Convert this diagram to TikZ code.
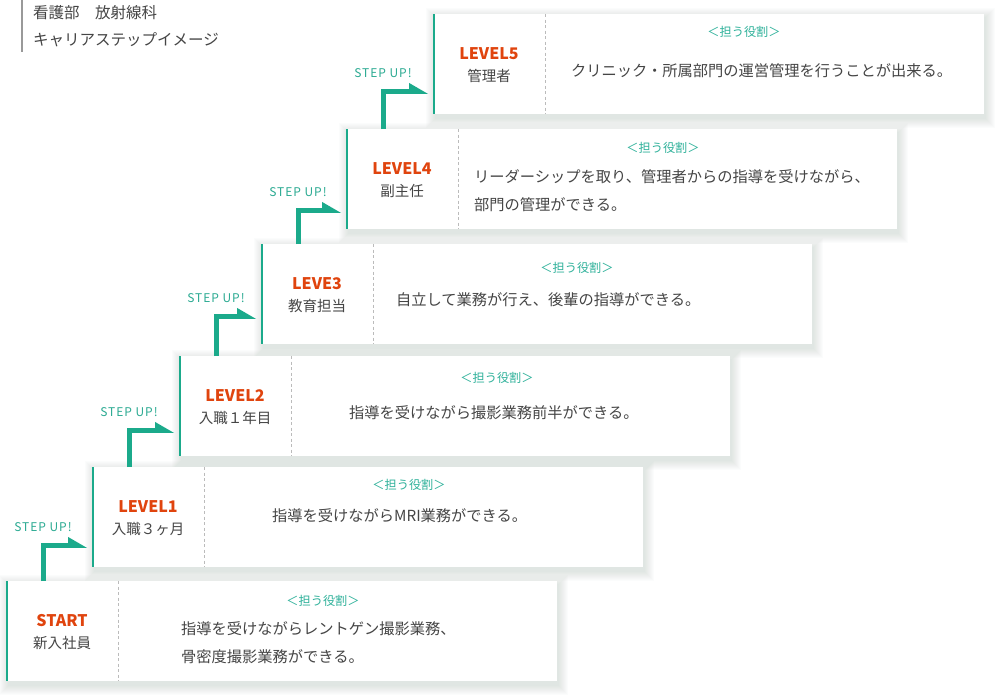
\documentclass[tikz,border=0pt]{standalone}
\usepackage{fontspec}
\setmainfont{Noto Sans CJK JP}
\newfontfamily\stepfont[LetterSpace=8]{Noto Sans CJK JP}
\usetikzlibrary{calc}
\definecolor{tealA}{HTML}{1BAA8B}
\definecolor{tealT}{HTML}{2BAA92}
\definecolor{roleC}{HTML}{2EB19A}
\definecolor{redC}{HTML}{E0440E}
\definecolor{txtC}{HTML}{454545}
\definecolor{shadowC}{HTML}{8FA8A0}
\definecolor{dashC}{HTML}{BBBBBB}
\tikzset{
  boxshape/.style={rectangle, inner sep=0pt, minimum width=550pt, minimum height=99.5pt, anchor=north west},
  leftbar/.style={draw=tealA, line width=1.5pt},
  divider/.style={draw=dashC, line width=0.8pt, dash pattern=on 3pt off 2.5pt},
  titletext/.style={text=redC, font=\bfseries\fontsize{16}{18}\selectfont, inner sep=0pt},
  subtext/.style={text=txtC, font=\fontsize{14.5}{17}\selectfont, inner sep=0pt},
  roletext/.style={text=roleC, font=\fontsize{12.2}{14}\selectfont, inner sep=0pt},
  bodytext/.style={text=txtC, font=\fontsize{15.25}{28}\selectfont, inner sep=0pt, align=left, anchor=west},
  steplabel/.style={text=tealT, font=\stepfont\fontsize{12}{14}\selectfont, inner sep=0pt},
  arrowbar/.style={draw=tealA, line width=5pt},
  headtext/.style={text=txtC, font=\fontsize{15.5}{18}\selectfont, inner sep=0pt, anchor=west}
}
\newcommand{\stageBox}[5]{%
  \node[boxshape] (#1) at (#2,#3) {};
  \foreach \i in {1,...,10}{
    \fill[shadowC, opacity=0.028] ($(#1.north west)+(2-\i,4-\i)$) rectangle ($(#1.south east)+(1+\i,4+\i)$);
  }
  \fill[white] (#1.north west) rectangle (#1.south east);
  \draw[leftbar] (#1.north west) -- (#1.south west);
  \draw[divider] ($(#1.north west)+(111,0)$) -- ($(#1.south west)+(111,0)$);
  \node[titletext] (#1t) at ($(#1.north west)+(55,40)$) {#4};
  \node[subtext] (#1s) at ($(#1.north west)+(55,62)$) {#5};
}
\newcommand{\stepArrow}[4]{%
  \coordinate (#1a) at ($(#2.north west)+(36,0)$);
  \coordinate (#1b) at ($(#3.south west)+(-25,-#4)$);
  \draw[arrowbar] (#1a) |- (#1b);
  \fill[tealA] ($(#1b)+(0,2.5)$) -- ($(#1b)+(0,-8.5)$) -- ($(#1b)+(19,2.5)$) -- cycle;
  \node[steplabel] (#1l) at ($(#1a |- #1b)+(0,-18.5)$) {STEP UP!};
}
\begin{document}
\begin{tikzpicture}[x=1pt,y=-1pt]
\useasboundingbox (0,0) rectangle (998,697);
\fill[white] (0,0) rectangle (998,697);
% header
\coordinate (hl1) at (22,0);
\coordinate (hl2) at (22,52);
\draw[draw=gray!80, line width=1.2pt] (hl1) -- (hl2);
\node[headtext] (h1) at (33,13) {看護部　放射線科};
\node[headtext] (h2) at (33,40) {キャリアステップイメージ};
% boxes
\stageBox{s5}{434}{14}{LEVEL5}{管理者}
\stageBox{s4}{347}{129}{LEVEL4}{副主任}
\stageBox{s3}{262}{244}{LEVE3}{教育担当}
\stageBox{s2}{180}{356}{LEVEL2}{入職１年目}
\stageBox{s1}{93}{467}{LEVEL1}{入職３ヶ月}
\stageBox{s0}{7}{581}{START}{新入社員}
% role headers
\node[roletext] (r5) at (744,32) {＜担う役割＞};
\node[roletext] (r4) at (663,148) {＜担う役割＞};
\node[roletext] (r3) at (577,268) {＜担う役割＞};
\node[roletext] (r2) at (497,378) {＜担う役割＞};
\node[roletext] (r1) at (409,485) {＜担う役割＞};
\node[roletext] (r0) at (323,601) {＜担う役割＞};
% body texts
\node[bodytext] (b5) at (571,71) {クリニック・所属部門の運営管理を行うことが出来る。};
\node[bodytext] (b4) at (474,190.5) {リーダーシップを取り、管理者からの指導を受けながら、\\部門の管理ができる。};
\node[bodytext] (b3) at (396,300) {自立して業務が行え、後輩の指導ができる。};
\node[bodytext] (b2) at (349,413) {指導を受けながら撮影業務前半ができる。};
\node[bodytext] (b1) at (272,516) {指導を受けながらMRI業務ができる。};
\node[bodytext] (b0) at (181,643) {指導を受けながらレントゲン撮影業務、\\骨密度撮影業務ができる。};
% arrows
\stepArrow{u1}{s0}{s1}{21.5}
\stepArrow{u2}{s1}{s2}{25.5}
\stepArrow{u3}{s2}{s3}{27.5}
\stepArrow{u4}{s3}{s4}{18.5}
\stepArrow{u5}{s4}{s5}{22.5}
\end{tikzpicture}
\end{document}
